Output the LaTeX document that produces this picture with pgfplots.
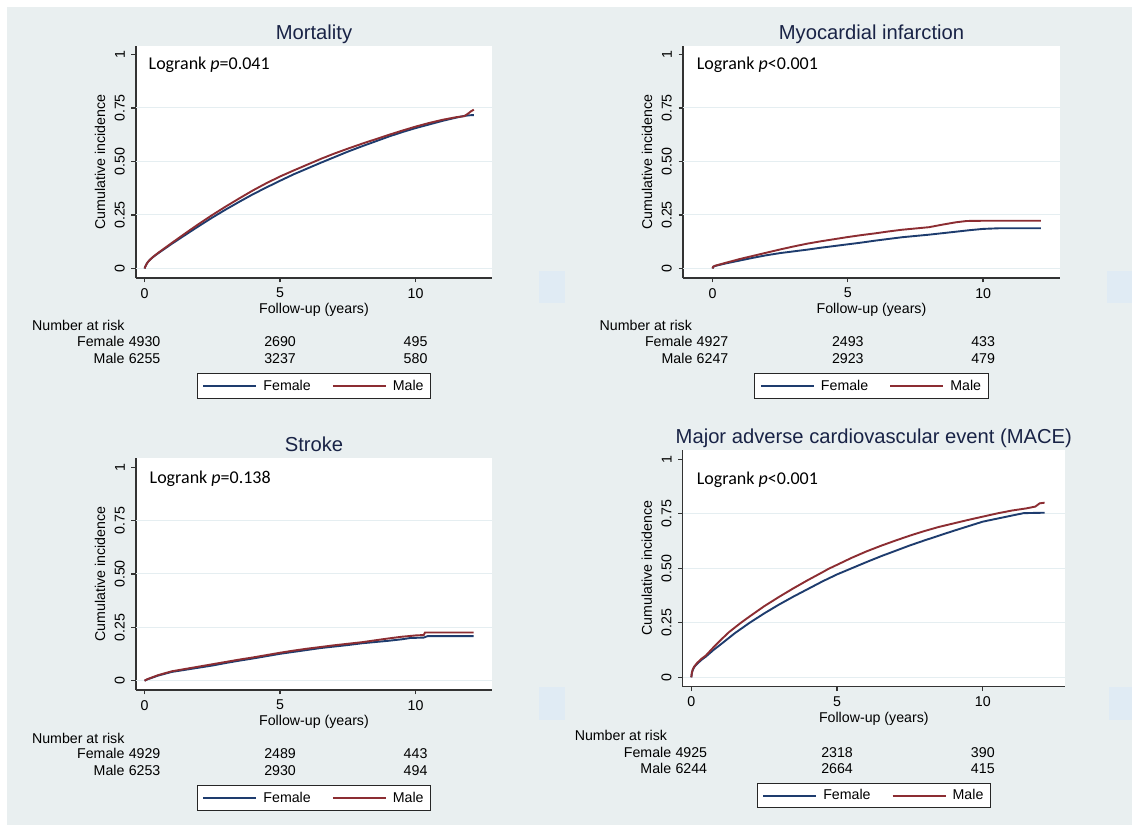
\documentclass[border=0pt]{standalone}
\usepackage{pgfplots}
\pgfplotsset{compat=1.18}
\usepackage{fontspec}
\setmainfont{Liberation Sans}
\newfontfamily\carl{Carlito}
\definecolor{bg}{RGB}{233,239,240}
\definecolor{gridc}{RGB}{229,238,241}
\definecolor{fem}{RGB}{30,60,110}
\definecolor{mal}{RGB}{140,45,50}
\definecolor{ttl}{RGB}{25,35,70}
\definecolor{blu}{RGB}{224,235,244}
\newcommand\lab{\fontsize{14.2}{16}\selectfont}
\newcommand\ttlfont{\fontsize{20.2}{24}\selectfont}
\newcommand\lgr{\carl\fontsize{18}{21}\selectfont}
\tikzset{nar/.style={font=\lab, inner sep=0pt}}
\newcommand\nar[7]{%
  \node[nar, anchor=base west] at (axis cs:#7,-0.292) {Number at risk};
  \node[nar, anchor=base] (f0) at (axis cs:0,-0.366) {#1};
  \node[nar, anchor=base east] at ([xshift=-3.9pt]f0.base west) {Female};
  \node[nar, anchor=base] at (axis cs:5,-0.366) {#2};
  \node[nar, anchor=base] at (axis cs:10,-0.366) {#3};
  \node[nar, anchor=base] (m0) at (axis cs:0,-0.442) {#4};
  \node[nar, anchor=base east] at ([xshift=-3.9pt]m0.base west) {Male};
  \node[nar, anchor=base] at (axis cs:5,-0.442) {#5};
  \node[nar, anchor=base] at (axis cs:10,-0.442) {#6};
}
\pgfplotsset{
  femline/.style={draw=fem, line width=1.9pt, mark=none,
    legend image code/.code={\draw[draw=fem, line width=2pt] (0pt,0pt) -- (53pt,0pt);}},
  malline/.style={draw=mal, line width=1.9pt, mark=none,
    legend image code/.code={\draw[draw=mal, line width=2pt] (0pt,0pt) -- (53pt,0pt);}},
  every axis title/.style={font=\ttlfont, text=ttl, at={([yshift=6.5pt]axis description cs:0.5,1)}, anchor=base},
  km/.style={
    scale only axis, anchor=north west, clip=false,
    axis x line*=bottom, axis y line*=left,
    axis line style={line width=1.3pt, black!80},
    axis background/.style={fill=white},
    tick align=outside, major tick length=4.5pt,
    tick style={line width=1.3pt, black!80},
    xtick={0,5,10}, xticklabels={0,5,10},
    ytick={0,0.25,0.5,0.75,1}, yticklabels={0,0.25,0.50,0.75,1},
    extra y ticks={0,0.25,0.5,0.75}, extra y tick labels={},
    extra y tick style={grid=major, tick style={draw=none}},
    major grid style={line width=1pt, draw=gridc},
    tick label style={font=\lab, inner sep=0pt},
    xticklabel style={anchor=north},
    yticklabel style={rotate=90, anchor=south},
    xticklabel shift=5.5pt, yticklabel shift=6.5pt,
    /pgf/number format/assume math mode=true,
    xlabel={Follow-up (years)}, ylabel={Cumulative incidence},
    label style={font=\lab},
    xlabel style={at={([yshift=-32pt]axis description cs:0.5,0)}, anchor=center},
    ylabel style={at={([xshift=-36pt]axis description cs:0,0.5)}, anchor=center},
    legend columns=2,
    legend style={at={([yshift=-95pt]axis description cs:0.5,0)}, anchor=north,
      draw=black!85, line width=1pt, fill=white, inner xsep=5pt, inner ysep=4.5pt,
      nodes={inner sep=2pt, text depth=0.15em, font=\lab},
      /tikz/every odd column/.append style={column sep=4pt},
      /tikz/every even column/.append style={column sep=19pt}},
  }
}
\begin{document}
\begin{tikzpicture}
\fill[white] (0,0) rectangle (1132pt,826pt);
\fill[bg] (7pt,1pt) rectangle (1132pt,819pt);
\fill[blu] (539pt,523pt) rectangle (565pt,555pt);
\fill[blu] (1107pt,523pt) rectangle (1132pt,555pt);
\fill[blu] (539pt,106pt) rectangle (565pt,139pt);
\fill[blu] (1109pt,106pt) rectangle (1132pt,139pt);

% Mortality
\begin{axis}[km, at={(136pt,780pt)}, width=356pt, height=232pt,
  xmin=-0.317, xmax=12.82, ymin=-0.0444, ymax=1.0397, title={Mortality}]
\addplot[femline] coordinates {(0,0) (0.03,0.01) (0.07,0.02) (0.12,0.03) (0.2,0.041) (0.3,0.052) (0.4,0.062) (0.5,0.071) (0.75,0.093) (1,0.115) (1.3,0.14) (1.6,0.165) (2,0.198) (2.5,0.238) (3,0.276) (3.5,0.312) (4,0.347) (4.5,0.379) (5,0.41) (5.5,0.44) (6,0.467) (6.5,0.494) (7,0.52) (7.5,0.546) (8,0.57) (8.5,0.593) (9,0.616) (9.5,0.637) (10,0.656) (10.5,0.673) (11,0.69) (11.5,0.705) (11.8,0.713) (12,0.716) (12.15,0.717)};
\addlegendentry{Female}
\addplot[malline] coordinates {(0,0) (0.03,0.01) (0.07,0.02) (0.12,0.03) (0.2,0.041) (0.3,0.053) (0.4,0.063) (0.5,0.073) (0.75,0.096) (1,0.119) (1.3,0.146) (1.6,0.173) (2,0.208) (2.5,0.25) (3,0.29) (3.5,0.328) (4,0.365) (4.5,0.399) (5,0.43) (5.5,0.458) (6,0.485) (6.5,0.512) (7,0.537) (7.5,0.56) (8,0.582) (8.5,0.603) (9,0.624) (9.5,0.644) (10,0.663) (10.5,0.68) (11,0.695) (11.5,0.707) (11.8,0.712) (11.95,0.725) (12.05,0.735) (12.15,0.742)};
\addlegendentry{Male}
\node[anchor=base west, font=\lgr, inner sep=0pt] at ([xshift=12.5pt,yshift=-24pt]axis description cs:0,1) {Logrank \textit{p}=0.041};
\nar{4930}{2690}{495}{6255}{3237}{580}{-4.155}
\end{axis}

% Myocardial infarction
\begin{axis}[km, at={(683pt,780pt)}, width=377pt, height=232pt,
  xmin=-1.09, xmax=12.84, ymin=-0.0444, ymax=1.0397, title={Myocardial infarction}]
\addplot[femline] coordinates {(0,0) (0.03,0.008) (0.1,0.012) (0.5,0.024) (1,0.037) (1.5,0.05) (2,0.062) (2.5,0.072) (3,0.08) (3.5,0.088) (4,0.097) (4.5,0.105) (5,0.113) (5.5,0.121) (6,0.13) (6.5,0.138) (7,0.146) (7.5,0.152) (8,0.158) (8.5,0.165) (9,0.172) (9.5,0.179) (10,0.185) (10.6,0.188) (12.13,0.188)};
\addlegendentry{Female}
\addplot[malline] coordinates {(0,0) (0.03,0.009) (0.1,0.013) (0.5,0.027) (1,0.044) (1.5,0.059) (2,0.074) (2.5,0.089) (3,0.103) (3.5,0.116) (4,0.127) (4.5,0.137) (5,0.147) (5.5,0.156) (6,0.164) (6.5,0.173) (7,0.181) (7.5,0.187) (8,0.193) (8.5,0.205) (9,0.216) (9.4,0.222) (10,0.223) (12.13,0.223)};
\addlegendentry{Male}
\node[anchor=base west, font=\lgr, inner sep=0pt] at ([xshift=13.7pt,yshift=-24pt]axis description cs:0,1) {Logrank \textit{p}<0.001};
\nar{4927}{2493}{433}{6247}{2923}{479}{-4.178}
\end{axis}

% Stroke
\begin{axis}[km, at={(136pt,367.7pt)}, width=356pt, height=231.7pt,
  xmin=-0.317, xmax=12.82, ymin=-0.0436, ymax=1.042, title={Stroke}]
\addplot[femline] coordinates {(0,0) (0.1,0.006) (0.5,0.024) (1,0.041) (1.5,0.051) (2,0.061) (2.5,0.071) (3,0.083) (3.5,0.094) (4,0.104) (4.5,0.115) (5,0.126) (5.5,0.135) (6,0.144) (6.5,0.153) (7,0.16) (7.5,0.167) (8,0.175) (8.5,0.181) (9,0.187) (9.5,0.194) (9.8,0.2) (10.3,0.202) (10.45,0.209) (12.14,0.209)};
\addlegendentry{Female}
\addplot[malline] coordinates {(0,0) (0.1,0.007) (0.5,0.026) (1,0.044) (1.5,0.055) (2,0.066) (2.5,0.077) (3,0.088) (3.5,0.099) (4,0.109) (4.5,0.12) (5,0.131) (5.5,0.141) (6,0.15) (6.5,0.158) (7,0.166) (7.5,0.173) (8,0.18) (8.5,0.189) (9,0.198) (9.5,0.206) (10,0.212) (10.3,0.214) (10.35,0.226) (12.14,0.226)};
\addlegendentry{Male}
\node[anchor=base west, font=\lgr, inner sep=0pt] at ([xshift=13.5pt,yshift=-25.7pt]axis description cs:0,1) {Logrank \textit{p}=0.138};
\nar{4929}{2489}{443}{6253}{2930}{494}{-4.16}
\end{axis}

% MACE
\begin{axis}[km, at={(682.7pt,376pt)}, width=382.3pt, height=236.7pt,
  xmin=-0.295, xmax=12.82, ymin=-0.0431, ymax=1.0427,
  title={Major adverse cardiovascular event (MACE)},
  legend style={at={([yshift=-96pt]axis description cs:0.5,0)}}]
\addplot[femline] coordinates {(0,0) (0.02,0.02) (0.05,0.034) (0.1,0.047) (0.2,0.062) (0.35,0.08) (0.5,0.095) (0.75,0.124) (1,0.15) (1.5,0.203) (2,0.25) (2.5,0.293) (3,0.333) (3.5,0.37) (4,0.405) (4.5,0.44) (5,0.472) (5.5,0.5) (6,0.528) (6.5,0.555) (7,0.58) (7.5,0.605) (8,0.628) (8.5,0.65) (9,0.672) (9.5,0.693) (10,0.714) (10.5,0.728) (11,0.742) (11.4,0.753) (12.12,0.755)};
\addlegendentry{Female}
\addplot[malline] coordinates {(0,0) (0.02,0.021) (0.05,0.036) (0.1,0.049) (0.2,0.066) (0.35,0.085) (0.5,0.1) (0.75,0.136) (1,0.17) (1.3,0.208) (1.7,0.25) (2,0.279) (2.5,0.326) (3,0.368) (3.5,0.408) (4,0.446) (4.5,0.482) (4.7,0.497) (5,0.516) (5.5,0.548) (6,0.577) (6.5,0.603) (7,0.627) (7.5,0.65) (8,0.671) (8.5,0.69) (9,0.706) (9.5,0.722) (10,0.737) (10.5,0.752) (11,0.765) (11.5,0.775) (11.8,0.783) (11.95,0.798) (12.12,0.801)};
\addlegendentry{Male}
\node[anchor=base west, font=\lgr, inner sep=0pt] at ([xshift=14pt,yshift=-34.3pt]axis description cs:0,1) {Logrank \textit{p}<0.001};
\nar{4925}{2318}{390}{6244}{2664}{415}{-4.005}
\end{axis}
\pgfresetboundingbox
\useasboundingbox (0,0) rectangle (1132pt,826pt);
\end{tikzpicture}
\end{document}
